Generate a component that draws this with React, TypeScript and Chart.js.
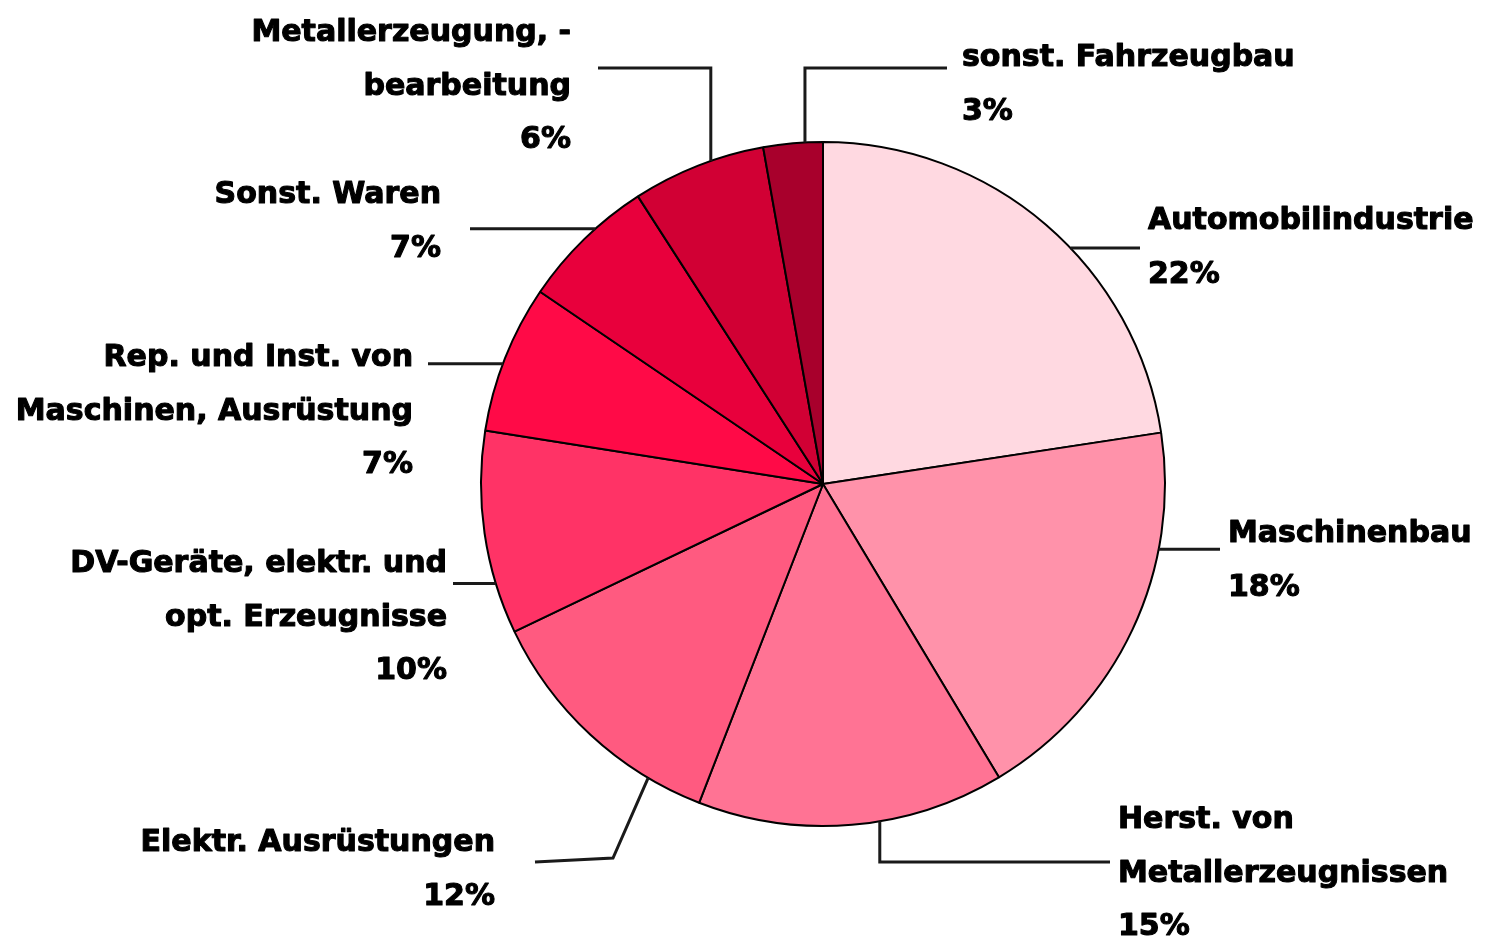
import React, { useEffect, useRef } from "react";
import { Chart, registerables } from "chart.js";

Chart.register(...registerables);

const categories = [
  "Automobilindustrie",
  "Maschinenbau",
  "Herst. von Metallerzeugnissen",
  "Elektr. Ausrüstungen",
  "DV-Geräte, elektr. und opt. Erzeugnisse",
  "Rep. und Inst. von Maschinen, Ausrüstung",
  "Sonst. Waren",
  "Metallerzeugung, -bearbeitung",
  "sonst. Fahrzeugbau",
];

const shares = [22.6, 18.8, 14.5, 12.0, 9.6, 7.0, 6.4, 6.3, 2.8];

const percentLabels = ["22%", "18%", "15%", "12%", "10%", "7%", "7%", "6%", "3%"];

const labelLines = [
  ["Automobilindustrie"],
  ["Maschinenbau"],
  ["Herst. von", "Metallerzeugnissen"],
  ["Elektr. Ausrüstungen"],
  ["DV-Geräte, elektr. und", "opt. Erzeugnisse"],
  ["Rep. und Inst. von", "Maschinen, Ausrüstung"],
  ["Sonst. Waren"],
  ["Metallerzeugung, -", "bearbeitung"],
  ["sonst. Fahrzeugbau"],
];

const colors = [
  "#FFD9E1",
  "#FF92AA",
  "#FF7394",
  "#FF5A80",
  "#FF3366",
  "#FF0A47",
  "#E8003C",
  "#D10034",
  "#A8002C",
];

// layout of the label annotations (not data)
type LabelLayout = {
  frac: number; // anchor position inside slice's angular span
  path: [number, number][]; // elbow points after anchor; NaN = reuse previous coordinate
  tx: number;
  ty: number; // center y of first line
  align: CanvasTextAlign;
};

const layouts: LabelLayout[] = [
  { frac: 0.57, path: [[1140, NaN]], tx: 1148, ty: 218, align: "left" },
  { frac: 0.29, path: [[1220, NaN]], tx: 1228, ty: 531, align: "left" },
  { frac: 0.41, path: [[NaN, 862], [1110, 862]], tx: 1118, ty: 817, align: "left" },
  { frac: 0.22, path: [[613, 858], [535, 862]], tx: 495, ty: 840, align: "right" },
  { frac: 0.25, path: [[453, NaN]], tx: 447, ty: 561, align: "right" },
  { frac: 0.46, path: [[428, NaN]], tx: 413, ty: 355, align: "right" },
  { frac: 0.61, path: [[470, NaN]], tx: 441, ty: 192, align: "right" },
  { frac: 0.6, path: [[NaN, 68], [598, 68]], tx: 571, ty: 30, align: "right" },
  { frac: 0.7, path: [[NaN, 68], [947, 68]], tx: 962, ty: 55, align: "left" },
];

const LINE_H = 53.5;

const labelPlugin = {
  id: "leaderLabels",
  afterDraw(chart: any) {
    const ctx = chart.ctx as CanvasRenderingContext2D;
    const meta = chart.getDatasetMeta(0);
    ctx.save();
    meta.data.forEach((arc: any, i: number) => {
      const L = layouts[i];
      const { x, y, startAngle, endAngle, outerRadius } = arc.getProps(
        ["x", "y", "startAngle", "endAngle", "outerRadius"],
        true
      );
      const a = startAngle + (endAngle - startAngle) * L.frac;
      const ax = x + Math.cos(a) * outerRadius;
      const ay = y + Math.sin(a) * outerRadius;
      ctx.beginPath();
      ctx.strokeStyle = "#1a1a1a";
      ctx.lineWidth = 3;
      ctx.lineJoin = "miter";
      ctx.moveTo(ax, ay);
      let px = ax;
      let py = ay;
      L.path.forEach(([qx, qy]) => {
        const nx = isNaN(qx) ? px : qx;
        const ny = isNaN(qy) ? py : qy;
        ctx.lineTo(nx, ny);
        px = nx;
        py = ny;
      });
      ctx.stroke();

      ctx.fillStyle = "#000";
      ctx.strokeStyle = "#000";
      ctx.lineWidth = 1.1;
      ctx.lineJoin = "round";
      ctx.font = "bold 30px 'DejaVu Sans'";
      ctx.textAlign = L.align;
      ctx.textBaseline = "alphabetic";
      const lines = [...labelLines[i], percentLabels[i]];
      lines.forEach((t, k) => {
        const yy = L.ty + 11 + k * LINE_H;
        ctx.fillText(t, L.tx, yy);
        ctx.strokeText(t, L.tx, yy);
      });
    });
    ctx.restore();
  },
};

export default function App() {
  const ref = useRef<HTMLCanvasElement | null>(null);
  useEffect(() => {
    document.body.style.margin = "0";
    const canvas = ref.current!;
    const chart = new Chart(canvas, {
      type: "pie",
      data: {
        labels: categories,
        datasets: [
          {
            data: shares,
            backgroundColor: colors,
            borderColor: "#000",
            borderWidth: 2,
          },
        ],
      },
      options: {
        responsive: false,
        animation: false,
        layout: { padding: { left: 480, right: 327, top: 141, bottom: 111 } },
        plugins: {
          legend: { display: false },
          tooltip: { enabled: false },
          title: { display: false },
        },
      },
      plugins: [labelPlugin],
    });
    return () => chart.destroy();
  }, []);
  return (
    <div style={{ position: "absolute", left: 0, top: 0, width: 1493, height: 938, background: "#fff" }}>
      <canvas ref={ref} width={1493} height={938} />
    </div>
  );
}
